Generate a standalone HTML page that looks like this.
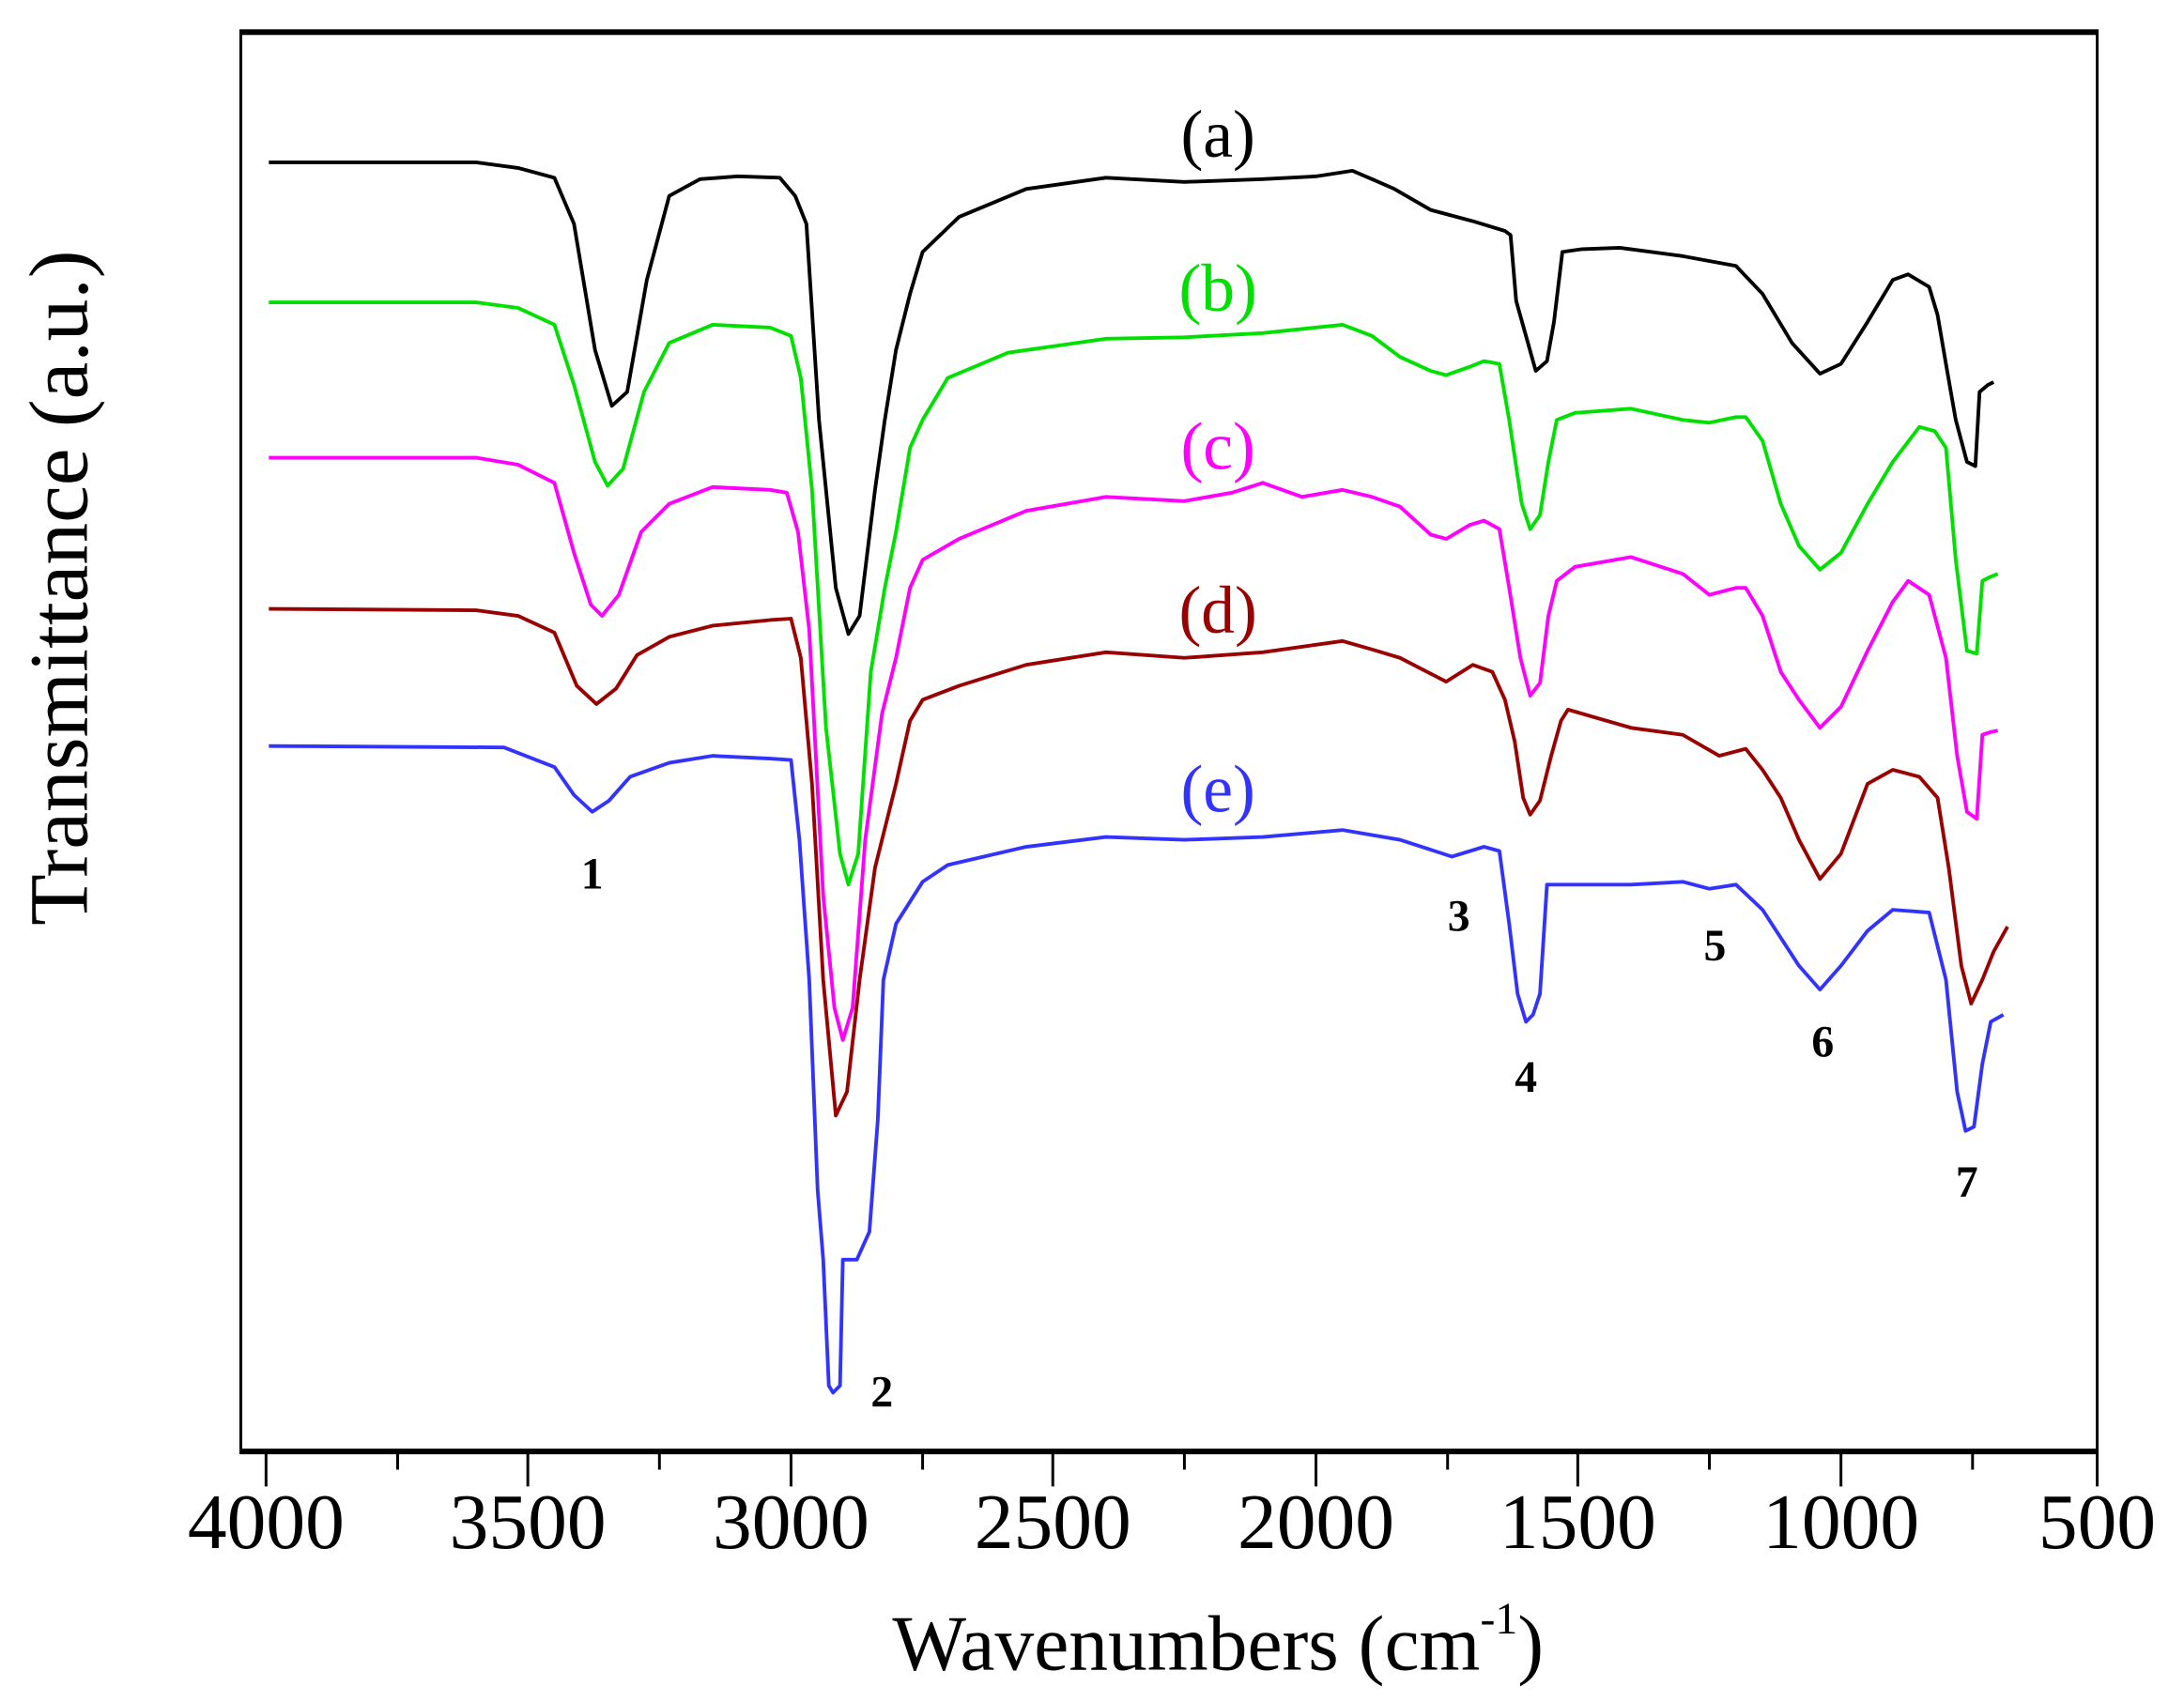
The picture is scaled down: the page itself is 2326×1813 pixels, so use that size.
<!DOCTYPE html>
<html><head><style>html,body{margin:0;padding:0;background:#fff}svg{display:block}</style></head>
<body>
<svg width="2326" height="1813" viewBox="0 0 1560 1216" xmlns="http://www.w3.org/2000/svg" font-family="Liberation Serif, serif">
<rect width="1560" height="1216" fill="#fff"/>
<rect x="172" y="23" width="1326" height="1014" fill="none" stroke="#000" stroke-width="2"/>
<line x1="171" y1="23" x2="1499" y2="23" stroke="#000" stroke-width="4"/>
<line x1="171" y1="1037" x2="1499" y2="1037" stroke="#000" stroke-width="4"/>
<g stroke="#000" stroke-width="2">
<line x1="190" y1="1037" x2="190" y2="1062"/><line x1="284" y1="1037" x2="284" y2="1050"/>
<line x1="377" y1="1037" x2="377" y2="1062"/><line x1="471" y1="1037" x2="471" y2="1050"/>
<line x1="565" y1="1037" x2="565" y2="1062"/><line x1="659" y1="1037" x2="659" y2="1050"/>
<line x1="752" y1="1037" x2="752" y2="1062"/><line x1="846" y1="1037" x2="846" y2="1050"/>
<line x1="940" y1="1037" x2="940" y2="1062"/><line x1="1034" y1="1037" x2="1034" y2="1050"/>
<line x1="1127" y1="1037" x2="1127" y2="1062"/><line x1="1221" y1="1037" x2="1221" y2="1050"/>
<line x1="1315" y1="1037" x2="1315" y2="1062"/><line x1="1409" y1="1037" x2="1409" y2="1050"/>
<line x1="1498" y1="1037" x2="1498" y2="1062"/>
</g>
<g font-size="56" text-anchor="middle" fill="#000">
<text x="190" y="1106">4000</text><text x="377" y="1106">3500</text><text x="565" y="1106">3000</text>
<text x="752" y="1106">2500</text><text x="940" y="1106">2000</text><text x="1127" y="1106">1500</text>
<text x="1315" y="1106">1000</text><text x="1498" y="1106">500</text>
</g>
<text x="870" y="1193" font-size="56" text-anchor="middle">Wavenumbers (cm<tspan font-size="32" dy="-26">-1</tspan><tspan dy="26">)</tspan></text>
<text transform="translate(62,420) rotate(-90)" font-size="60" text-anchor="middle">Transmittance (a.u.)</text>
<g fill="none" stroke-width="2.6" stroke-linejoin="round">
<polyline stroke="#000" points="192,116 340,116 370,120 396,127 410,160 425,250 437,290 448,280 462,200 478,140 500,128 527,126 557,127 568,140 576,160 585,300 597,420 606,453 614,440 625,350 632,300 640,250 650,210 659,180 685,155 733,135 790,127 846,130 902,128 940,126 966,122 980,128 996,135 1022,150 1052,158 1075,165 1079,168 1083,215 1090,240 1097,265 1105,258 1110,230 1116,180 1130,178 1157,177 1202,183 1240,190 1259,210 1280,245 1300,267 1315,260 1334,230 1352,200 1363,196 1378,205 1384,225 1390,260 1397,300 1405,330 1411,333 1414,280 1420,275 1424,273"/>
<polyline stroke="#00e000" points="192,216 340,216 370,220 396,232 410,275 425,330 434,347 445,335 460,280 478,245 509,232 550,234 565,240 572,270 580,350 590,520 600,610 606,632 613,610 622,480 632,420 640,380 650,320 659,300 677,270 720,252 790,242 846,241 902,238 959,232 980,240 1000,255 1022,265 1033,268 1050,262 1060,258 1071,260 1078,300 1087,360 1093,378 1100,368 1106,330 1112,300 1125,295 1165,292 1202,300 1221,302 1240,298 1247,298 1259,315 1272,360 1285,390 1300,407 1315,395 1334,360 1352,330 1371,305 1382,308 1390,320 1397,400 1405,465 1412,467 1416,415 1422,412 1427,410"/>
<polyline stroke="#ff00ff" points="192,327 340,327 370,332 396,345 410,395 422,432 430,440 442,425 458,380 478,360 509,348 550,350 562,352 570,380 578,450 588,640 596,720 602,743 609,720 618,600 630,510 640,470 650,420 659,400 685,385 733,365 790,355 846,358 880,352 902,345 930,355 959,350 980,355 1000,362 1022,382 1033,385 1050,375 1060,372 1071,378 1078,420 1086,470 1093,497 1100,488 1106,440 1112,415 1125,405 1165,398 1202,410 1221,425 1240,420 1247,420 1259,440 1272,480 1285,500 1300,520 1315,505 1334,465 1352,430 1363,415 1378,425 1390,470 1398,540 1405,580 1412,585 1416,525 1422,523 1427,522"/>
<polyline stroke="#990000" points="192,435 340,436 370,440 396,452 412,490 426,503 440,492 455,468 478,455 509,447 550,443 565,442 572,470 580,560 588,700 597,797 605,780 614,700 625,620 635,580 640,560 650,515 659,500 685,490 733,475 790,466 846,470 902,466 959,458 980,464 1000,470 1033,487 1052,475 1066,480 1075,500 1082,530 1088,570 1093,582 1100,572 1108,540 1115,515 1120,507 1165,520 1202,525 1228,540 1247,535 1259,550 1272,570 1285,600 1300,628 1315,610 1334,560 1352,550 1371,555 1384,570 1392,620 1401,690 1408,717 1416,700 1424,680 1434,662"/>
<polyline stroke="#3333ff" points="192,533 360,534 396,548 410,568 423,580 435,572 450,555 478,545 509,540 550,542 565,543 571,600 578,700 584,850 588,900 592,990 595,995 600,990 602,900 612,900 621,880 627,800 631,700 640,660 659,630 677,618 733,605 790,598 846,600 902,598 959,593 1000,600 1037,612 1060,605 1071,608 1078,660 1084,710 1090,730 1095,725 1100,710 1105,632 1130,632 1165,632 1202,630 1221,635 1240,632 1259,650 1272,670 1285,690 1300,707 1315,690 1334,665 1352,650 1378,652 1390,700 1398,780 1404,808 1410,805 1416,760 1422,730 1431,725"/>
</g>
<g font-size="48" text-anchor="middle">
<text x="870" y="112" fill="#000">(a)</text>
<text x="870" y="222" fill="#00e000">(b)</text>
<text x="870" y="335" fill="#ff00ff">(c)</text>
<text x="870" y="452" fill="#990000">(d)</text>
<text x="870" y="580" fill="#3333ff">(e)</text>
</g>
<g font-size="32" font-weight="bold" text-anchor="middle" fill="#000">
<text x="423" y="635">1</text><text x="630" y="1005">2</text><text x="1042" y="665">3</text>
<text x="1090" y="780">4</text><text x="1225" y="686">5</text><text x="1302" y="755">6</text><text x="1405" y="855">7</text>
</g>
</svg>
</body></html>
